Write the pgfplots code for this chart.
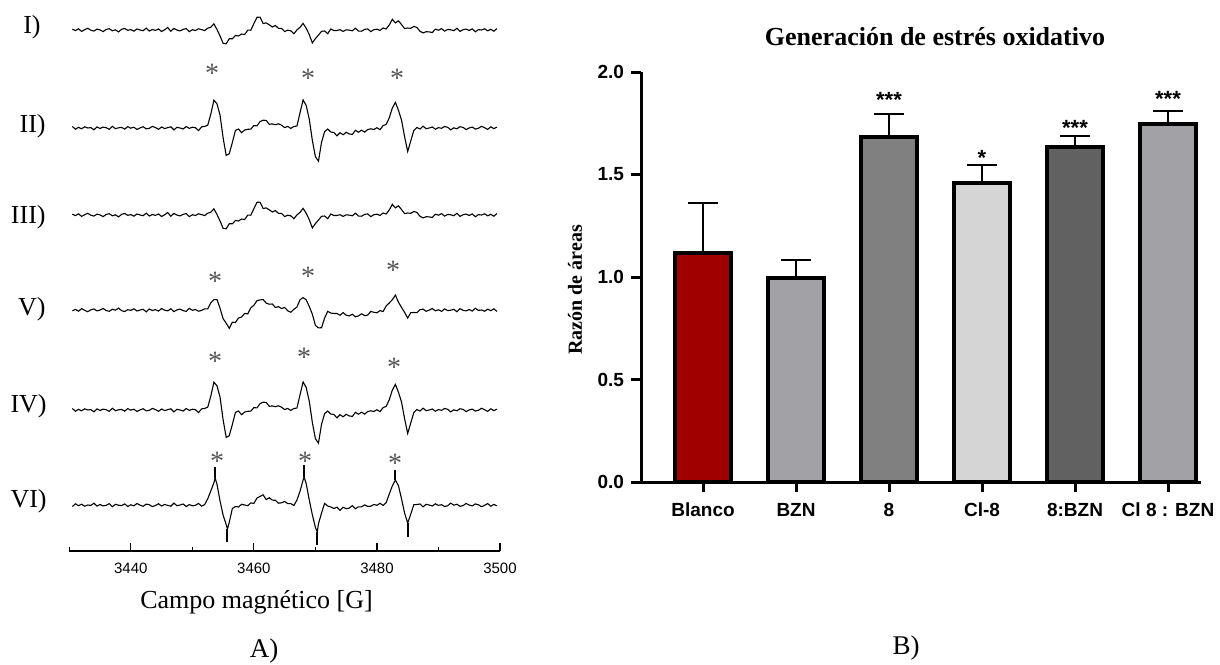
\documentclass[border=0pt]{standalone}
\usepackage{fontspec}
\setmainfont{Liberation Serif}
\newfontfamily\arial{Liberation Sans}
\usepackage{pgfplots}
\usepackage{pgfplotstable}
\pgfplotsset{compat=1.18}
\definecolor{redbar}{RGB}{160,0,0}
\definecolor{grayA}{RGB}{161,161,166}
\definecolor{grayB}{RGB}{128,128,128}
\definecolor{grayC}{RGB}{213,213,213}
\definecolor{grayD}{RGB}{97,97,97}
\definecolor{stargray}{RGB}{85,85,85}
\pgfplotsset{tr/.style={black, solid, line width=0.55pt, no marks},
  sp/.style={black, solid, line width=1pt, no marks}}

\pgfplotstableread{
x I II V
3430.5 0.8 1.5 -0.8
3431.0 -0.6 -1.2 0.6
3431.5 1.2 0.7 -1.2
3432.0 -1.4 -0.8 1.4
3432.5 0.3 1.2 -0.3
3433.0 1.7 0.0 -1.7
3433.5 -0.2 0.4 0.2
3434.0 -1.1 -1.8 1.1
3434.5 0.9 1.1 -0.9
3435.0 0.1 -0.5 -0.1
3435.5 -1.6 0.9 1.6
3436.0 0.6 0.3 -0.6
3436.5 1.3 -1.4 -1.3
3437.0 -0.8 1.7 0.8
3437.5 0.2 -0.7 -0.2
3438.0 -1.9 0.2 1.9
3438.5 0.7 0.6 -0.7
3439.0 1.5 -1.1 -1.5
3439.5 -0.3 1.4 0.3
3440.0 0.4 -0.2 -0.4
3440.5 -1.2 0.8 1.2
3441.0 1.0 -1.5 -1.0
3441.5 0.0 0.1 0.0
3442.0 -0.7 1.3 0.7
3442.5 1.8 -0.9 -1.8
3443.0 -1.0 -0.3 1.0
3443.5 0.5 1.6 -0.5
3444.0 -0.4 0.5 0.4
3444.5 1.1 -1.3 -1.1
3445.0 -1.5 1.0 1.5
3445.5 0.2 -0.6 -0.2
3446.0 2.5 0.4 -0.9
3446.5 -1.3 1.2 1.3
3447.0 1.6 -1.9 -1.6
3447.5 -0.1 0.7 0.1
3448.0 -0.9 0.0 0.9
3448.5 0.6 -1.0 -0.6
3449.0 1.4 1.5 -1.4
3449.5 -1.7 -0.4 1.7
3450.0 0.3 0.8 -0.3
3450.5 -0.5 0.3 0.5
3451.0 1.2 -2.6 -1.2
3451.5 0.4 1.1 -0.4
3452.0 -0.6 1.6 1.1
3452.5 1.8 2.8 1.2
3453.0 2.8 13.9 7.2
3453.5 6.2 27.8 10.3
3454.0 0.6 24.2 10.4
3454.5 -5.9 12.9 1.9
3455.0 -13.3 -9.8 -8.7
3455.5 -13.8 -27.4 -13.2
3456.0 -8.7 -25.7 -18.3
3456.5 -8.8 -14.5 -12.2
3457.0 -5.5 -2.5 -12.5
3457.5 -6.0 -1.0 -8.0
3458.0 -4.0 -4.7 -7.0
3458.5 -4.6 -2.0 -3.4
3459.0 -0.1 -1.3 -3.9
3459.5 -0.2 -1.1 2.2
3460.0 6.3 2.4 4.7
3460.5 12.7 2.1 9.3
3461.0 12.9 6.4 10.1
3461.5 6.5 7.8 10.5
3462.0 7.1 7.6 6.9
3462.5 5.2 3.7 5.8
3463.0 3.0 4.1 6.0
3463.5 4.5 3.3 2.5
3464.0 1.6 4.2 3.4
3464.5 1.6 2.8 1.4
3465.0 -1.6 0.4 2.6
3465.5 -0.2 1.6 -0.8
3466.0 -0.8 -0.4 -2.2
3466.5 -3.7 1.5 0.7
3467.0 0.1 2.0 2.9
3467.5 2.7 15.2 10.3
3468.0 6.6 28.1 12.4
3468.5 1.8 22.5 10.2
3469.0 -4.6 8.9 3.6
3469.5 -12.9 -12.3 -4.1
3470.0 -8.6 -28.7 -15.4
3470.5 -5.1 -33.2 -17.9
3471.0 -1.3 -14.1 -17.7
3471.5 -1.0 -3.6 -8.0
3472.0 -3.7 -1.0 -1.3
3472.5 1.0 -4.0 -3.0
3473.0 -0.5 -4.5 -3.5
3473.5 -0.5 -7.8 -3.5
3474.0 0.3 -4.7 -5.3
3474.5 -1.4 -6.8 -2.6
3475.0 0.2 -4.3 -5.2
3475.5 -0.1 -5.9 -5.9
3476.0 -0.8 -6.4 -4.2
3476.5 1.8 -2.3 -6.8
3477.0 -1.1 -4.2 -5.9
3477.5 -1.2 -2.2 -3.8
3478.0 0.6 -4.1 -5.6
3478.5 1.1 -1.6 -5.1
3479.0 -1.6 -0.8 -1.4
3479.5 0.3 -1.5 -2.3
3480.0 0.8 0.3 -2.8
3480.5 -0.4 -1.7 -0.6
3481.0 2.0 2.4 -1.5
3481.5 1.0 3.6 4.0
3482.0 5.0 10.1 7.0
3482.5 10.7 19.9 10.3
3483.0 7.1 25.6 14.9
3483.5 9.2 17.7 7.8
3484.0 5.4 7.9 2.6
3484.5 1.4 -8.8 -2.4
3485.0 2.0 -23.5 -8.0
3485.5 1.7 -12.9 -2.7
3486.0 3.5 -2.4 -2.5
3486.5 2.6 0.5 -2.6
3487.0 -1.3 -1.0 0.3
3487.5 -2.9 1.8 0.9
3488.0 -1.7 -0.7 -1.3
3488.5 -1.9 0.0 -0.1
3489.0 -2.5 1.0 1.5
3489.5 0.8 -1.2 -0.8
3490.0 -0.2 0.4 0.2
3490.5 1.4 -0.3 -1.4
3491.0 -1.1 1.5 1.1
3491.5 0.6 0.7 -0.6
3492.0 0.2 -1.9 -0.2
3492.5 -0.7 0.2 0.7
3493.0 1.7 -0.8 -1.7
3493.5 -1.4 1.3 1.4
3494.0 0.3 0.6 -0.3
3494.5 0.9 -1.6 -0.9
3495.0 -0.5 0.1 0.5
3495.5 1.1 0.9 -1.1
3496.0 -1.8 -1.1 1.8
3496.5 0.4 -0.2 -0.4
3497.0 0.0 1.7 0.0
3497.5 1.2 0.3 -1.2
3498.0 -0.8 -1.4 0.8
3498.5 0.7 1.2 -0.7
3499.0 -1.2 -0.6 1.2
3499.5 1.5 0.8 -1.5
}\epr

\pgfplotstableread{
x v
3430.5 -1.5
3431.0 1.2
3431.5 -0.7
3432.0 0.8
3432.5 -1.2
3433.0 0.0
3433.5 -0.4
3434.0 1.8
3434.5 -1.1
3435.0 0.5
3435.5 -0.9
3436.0 -0.3
3436.5 1.4
3437.0 -1.7
3437.5 0.7
3438.0 -0.2
3438.5 -0.6
3439.0 1.1
3439.5 -1.4
3440.0 0.2
3440.5 -0.8
3441.0 1.5
3441.5 -0.1
3442.0 -1.3
3442.5 0.9
3443.0 0.3
3443.5 -1.6
3444.0 -0.5
3444.5 1.3
3445.0 -1.0
3445.5 0.6
3446.0 -0.4
3446.5 -1.2
3447.0 1.9
3447.5 -0.7
3448.0 0.0
3448.5 1.0
3449.0 -1.5
3449.5 0.4
3450.0 -0.8
3450.5 -0.3
3451.0 1.6
3451.5 -1.1
3452.0 0.4
3452.5 6.2
3453.0 14.1
3453.5 22.2
3453.7 27
3454.0 20.8
3454.5 4.1
3455.0 -10.2
3455.5 -19.6
3455.7 -24
3456.0 -17.3
3456.5 -3.5
3457.0 -1.5
3457.5 -2.0
3458.0 0.7
3458.5 0.0
3459.0 -0.7
3459.5 2.1
3460.0 1.6
3460.5 6.9
3461.0 8.6
3461.5 10.2
3462.0 5.4
3462.5 7.3
3463.0 4.9
3463.5 4.7
3464.0 1.8
3464.5 2.2
3465.0 3.6
3465.5 1.4
3466.0 1.4
3466.5 -0.5
3467.0 5.0
3467.5 13.8
3468.0 24.9
3468.15 28
3468.5 21.5
3469.0 5.1
3469.5 -9.7
3470.0 -22.3
3470.3 -27
3470.5 -18.8
3471.0 -7.9
3471.5 1.6
3472.0 -1.0
3472.5 -2.0
3473.0 -3.5
3473.5 -2.2
3474.0 -5.3
3474.5 -2.2
3475.0 -3.7
3475.5 -3.1
3476.0 -0.6
3476.5 -3.7
3477.0 -1.8
3477.5 -1.8
3478.0 0.1
3478.5 -1.4
3479.0 -1.2
3479.5 0.5
3480.0 -0.3
3480.5 1.7
3481.0 -0.4
3481.5 2.4
3482.0 10.9
3482.5 19.1
3483.0 25
3483.5 19.3
3484.0 6.1
3484.5 -8.2
3485.0 -18
3485.5 -9.1
3486.0 0.4
3486.5 0.5
3487.0 1.0
3487.5 -1.8
3488.0 0.7
3488.5 0.0
3489.0 -1.0
3489.5 1.2
3490.0 -0.4
3490.5 0.3
3491.0 -1.5
3491.5 -0.7
3492.0 1.9
3492.5 -0.2
3493.0 0.8
3493.5 -1.3
3494.0 -0.6
3494.5 1.6
3495.0 -0.1
3495.5 -0.9
3496.0 1.1
3496.5 0.2
3497.0 -1.7
3497.5 -0.3
3498.0 1.4
3498.5 -1.2
3499.0 0.6
3499.5 -0.8
}\eprVI

\begin{document}
\begin{tikzpicture}
\useasboundingbox (0,0) rectangle (610pt,-332pt);
% ---------------- Panel A ----------------
\begin{axis}[
  at={(34.65pt,-275.5pt)}, anchor=south west,
  scale only axis, width=215.35pt, height=275.5pt,
  xmin=3430, xmax=3500, ymin=-551, ymax=0,
  axis x line*=bottom, axis y line=none,
  clip=false,
  xtick={3440,3460,3480,3500}, xticklabels={3440,3460,3480,3500},
  minor xtick={3430,3450,3470,3490},
  tick align=inside,
  major tick length=4pt, minor tick length=2pt,
  tick style={black, line width=0.6pt},
  axis line style={line width=0.6pt},
  xticklabel style={font=\arial\fontsize{7.5}{9}\selectfont, yshift=-2.5pt},
]
\addplot[tr] table[x=x, y expr=\thisrow{I}-30] {\epr};
\addplot[tr] table[x=x, y expr=\thisrow{II}-128] {\epr};
\addplot[tr] table[x=x, y expr=\thisrow{I}-215] {\epr};
\addplot[tr] table[x=x, y expr=\thisrow{V}-310] {\epr};
\addplot[tr] table[x=x, y expr=\thisrow{II}-410] {\epr};
\addplot[tr] table[x=x, y expr=\thisrow{v}-505] {\eprVI};
\addplot[sp] coordinates {(3453.7,-478) (3453.7,-467)};
\addplot[sp] coordinates {(3455.7,-529) (3455.7,-542)};
\addplot[sp] coordinates {(3468.15,-477) (3468.15,-465)};
\addplot[sp] coordinates {(3470.3,-532) (3470.3,-545)};
\addplot[sp] coordinates {(3483.0,-480) (3483.0,-470)};
\addplot[sp] coordinates {(3485.0,-523) (3485.0,-537)};
\end{axis}
% labels panel A
\begin{scope}[every node/.style={font=\fontsize{13}{15}\selectfont, inner sep=0pt}]
\node[anchor=base east] at (20.5pt,-16.5pt) {I)};
\node[anchor=base east] at (23pt,-66pt) {II)};
\node[anchor=base east] at (23pt,-111.5pt) {III)};
\node[anchor=base east] at (23pt,-157.5pt) {V)};
\node[anchor=base east] at (23.5pt,-206pt) {IV)};
\node[anchor=base east] at (23.5pt,-253.5pt) {VI)};
\node at (128.25pt,-301pt) {Campo magnético [G]};
\node[font=\fontsize{13.5}{15}\selectfont] at (132pt,-325.5pt) {A)};
\node[font=\fontsize{13.5}{15}\selectfont] at (453pt,-324pt) {B)};
\end{scope}
\begin{scope}[every node/.style={font=\fontsize{14}{15}\selectfont, text=stargray, inner sep=0pt, yshift=-1.9pt}]
\node at (106pt,-35pt) {*};
\node at (154pt,-37.5pt) {*};
\node at (198.5pt,-37.5pt) {*};
\node at (107.5pt,-139pt) {*};
\node at (154pt,-136.5pt) {*};
\node at (196.5pt,-133.5pt) {*};
\node at (107.5pt,-179pt) {*};
\node at (152pt,-177pt) {*};
\node at (197pt,-182pt) {*};
\node at (108.5pt,-229pt) {*};
\node at (152.5pt,-229pt) {*};
\node at (197.5pt,-230pt) {*};
\end{scope}
% ---------------- Panel B ----------------
\begin{axis}[
  at={(320.5pt,-241pt)}, anchor=south west,
  scale only axis, width=280pt, height=205pt,
  xmin=-0.667, xmax=5.355, ymin=0, ymax=2,
  axis x line*=bottom, axis y line*=left,
  clip=false,
  axis line style={line width=1.5pt},
  tick align=outside, major tick length=5pt,
  tick style={black, line width=1.5pt},
  xtick={0,1,2,3,4,5},
  xticklabels={Blanco,BZN,8,Cl-8,8:BZN,Cl 8 : BZN},
  ytick={0,0.5,1,1.5,2},
  yticklabels={0.0,0.5,1.0,1.5,2.0},
  ticklabel style={font=\arial\bfseries\fontsize{9.5}{11}\selectfont},
  xticklabel style={yshift=-2pt},
  every axis plot/.append style={ybar, bar width=0.6, bar shift=0pt, draw=black, line width=2pt,
    error bars/y dir=plus, error bars/y explicit,
    error bars/error bar style={line width=1pt, black},
    error bars/error mark options={rotate=90, line width=1pt, mark size=7.5pt, black}},
]
\addplot[fill=redbar] coordinates {(0,1.115) +- (0,0.247)};
\addplot[fill=grayA] coordinates {(1,0.995) +- (0,0.09)};
\addplot[fill=grayB] coordinates {(2,1.685) +- (0,0.11)};
\addplot[fill=grayC] coordinates {(3,1.46) +- (0,0.088)};
\addplot[fill=grayD] coordinates {(4,1.635) +- (0,0.055)};
\addplot[fill=grayA] coordinates {(5,1.745) +- (0,0.065)};
\begin{scope}[every node/.style={font=\arial\bfseries\fontsize{11}{12}\selectfont, inner sep=0pt, yshift=-2.1pt}]
\node at (axis cs:2,1.883) {***};
\node at (axis cs:3,1.60) {*};
\node at (axis cs:4,1.748) {***};
\node at (axis cs:5,1.888) {***};
\end{scope}
\end{axis}
\node[font=\bfseries\fontsize{13}{15}\selectfont, anchor=base, inner sep=0pt] at (467.5pt,-22.5pt) {Generación de estrés oxidativo};
\node[font=\bfseries\fontsize{10}{12}\selectfont, rotate=90, inner sep=0pt] at (287.5pt,-145pt) {Razón de áreas};
\end{tikzpicture}
\end{document}
